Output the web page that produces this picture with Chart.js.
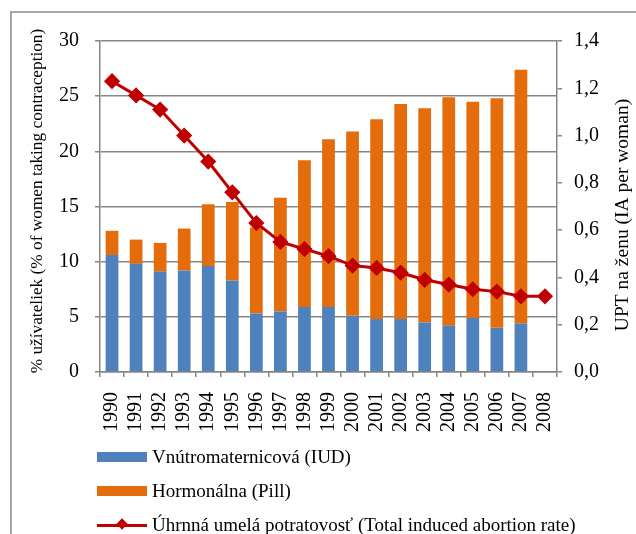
<!DOCTYPE html>
<html>
<head>
<meta charset="utf-8">
<script src="https://cdn.jsdelivr.net/npm/chart.js@4"></script>
<style>
  html, body { margin: 0; padding: 0; background: #fff; width: 636px; height: 534px; overflow: hidden; }
  #frame { position: absolute; left: 10px; top: 11px; width: 700px; height: 600px; border: 2px solid #a6a6a6; }
  #myChart { position: absolute; left: 0; top: 0; }
  #legend { position: absolute; left: 97px; top: 440px; font-family: 'Liberation Serif', 'Times New Roman', serif; font-size: 19px; color: #000; }
  .item { height: 34px; display: flex; align-items: center; }
  .swatch { width: 50px; height: 10px; margin-right: 5px; position: relative; }
  .lineSw { width: 50px; height: 3px; margin-right: 5px; position: relative; }
  .lineSw span { position: absolute; left: 21px; top: -4px; width: 8px; height: 8px; transform: rotate(45deg); }
</style>
</head>
<body>
<div id="frame"></div>
<canvas id="myChart" width="636" height="445"></canvas>
<div id="legend"></div>
<script>

const years = ['1990','1991','1992','1993','1994','1995','1996','1997','1998','1999','2000','2001','2002','2003','2004','2005','2006','2007','2008'];

// IUD users (%)
const iud = [10.6, 9.8, 9.1, 9.2, 9.6, 8.3, 5.3, 5.5, 5.9, 5.9, 5.1, 4.8, 4.8, 4.5, 4.2, 4.9, 4.0, 4.4, null];
// pill users (%)
const pill = [2.2, 2.2, 2.6, 3.8, 5.6, 7.1, 7.8, 10.3, 13.3, 15.2, 16.7, 18.1, 19.5, 19.4, 20.7, 19.6, 20.8, 23.0, null];
// total induced abortion rate
const abortion = [1.23, 1.17, 1.11, 1.00, 0.89, 0.76, 0.63, 0.55, 0.52, 0.49, 0.45, 0.44, 0.42, 0.39, 0.37, 0.35, 0.34, 0.32, 0.32];

const leftTicks = [0, 5, 10, 15, 20, 25, 30];
const rightTicks = [0, 0.2, 0.4, 0.6, 0.8, 1.0, 1.2, 1.4];

const names = ['Vnútromaternicová (IUD)', 'Hormonálna (Pill)', 'Úhrnná umelá potratovosť (Total induced abortion rate)'];
const colors = ['#4F81BD', '#E46C0A', '#C00000'];
const leftTitle = '% užívateliek (% of women taking contraception)';
const rightTitle = 'UPT na ženu (IA per woman)';

Chart.defaults.font.family = "'Liberation Serif', 'Times New Roman', serif";
Chart.defaults.color = '#000';

const gridColor = '#868686';

// both axis titles read bottom to top
function vText(c, text, x, y, size) {
  c.save();
  c.translate(x, y);
  c.rotate(-Math.PI / 2);
  c.font = size + "px 'Liberation Serif', 'Times New Roman', serif";
  c.fillStyle = '#000';
  c.textAlign = 'center';
  c.textBaseline = 'middle';
  c.fillText(text, 0, 0);
  c.restore();
}

const titlePlugin = {
  id: 'axisTitles',
  afterDraw(chart) {
    vText(chart.ctx, leftTitle, chart.scales.y.left + 27, 201, 17.3);
    vText(chart.ctx, rightTitle, chart.scales.y1.right - 13, 215, 19.5);
  }
};

const ctx = document.getElementById('myChart');

new Chart(ctx, {
  type: 'bar',
  data: {
    labels: years,
    datasets: [
      {
        type: 'line',
        label: names[2],
        data: abortion,
        yAxisID: 'y1',
        borderColor: colors[2],
        backgroundColor: colors[2],
        borderWidth: 3,
        pointStyle: 'rectRot',
        pointRadius: 6,
        pointHoverRadius: 6,
        tension: 0,
        order: 0
      },
      {
        label: names[0],
        data: iud,
        backgroundColor: colors[0],
        yAxisID: 'y',
        barPercentage: 0.53,
        categoryPercentage: 1,
        order: 1
      },
      {
        label: names[1],
        data: pill,
        backgroundColor: colors[1],
        yAxisID: 'y',
        barPercentage: 0.53,
        categoryPercentage: 1,
        order: 1
      }
    ]
  },
  options: {
    responsive: false,
    animation: false,
    devicePixelRatio: 1,
    layout: { padding: { left: 10, top: 41, right: 0, bottom: 0 } },
    plugins: {
      legend: { display: false },
      tooltip: { enabled: false }
    },
    scales: {
      x: {
        stacked: true,
        grid: { display: true, drawOnChartArea: false, drawTicks: true, tickLength: 5, color: gridColor, lineWidth: 1.5, offset: true },
        border: { color: gridColor, width: 1.5 },
        ticks: { minRotation: 90, maxRotation: 90, padding: 15, font: { size: 20 }, autoSkip: false },
        afterFit: function(scale) { scale.height = 73; }
      },
      y: {
        stacked: true,
        position: 'left',
        min: 0,
        max: 30,
        afterBuildTicks: function(scale) { scale.ticks = leftTicks.map(v => ({ value: v })); },
        grid: { color: gridColor, lineWidth: 1.5, tickLength: 5 },
        border: { color: gridColor, width: 1.5 },
        ticks: { padding: 16, font: { size: 20 } },
        afterFit: function(scale) { scale.width = 90; }
      },
      y1: {
        position: 'right',
        min: 0,
        max: 1.4,
        afterBuildTicks: function(scale) { scale.ticks = rightTicks.map(v => ({ value: v })); },
        grid: { drawOnChartArea: false, color: gridColor, lineWidth: 1.5, tickLength: 5 },
        border: { color: gridColor, width: 1.5 },
        ticks: {
          padding: 12,
          font: { size: 20 },
          callback: function(v) { return Number(v).toFixed(1).replace('.', ','); }
        },
        afterFit: function(scale) { scale.width = 79; }
      }
    }
  },
  plugins: [titlePlugin]
});

// legend below the chart
const legend = document.getElementById('legend');
for (let i = 0; i < names.length; i++) {
  let mark = i < 2
    ? `<div class="swatch" style="background:${colors[i]}"></div>`
    : `<div class="lineSw" style="background:${colors[i]}"><span style="background:${colors[i]}"></span></div>`;
  legend.innerHTML += `<div class="item">${mark}<div>${names[i]}</div></div>`;
}

</script>
</body>
</html>
